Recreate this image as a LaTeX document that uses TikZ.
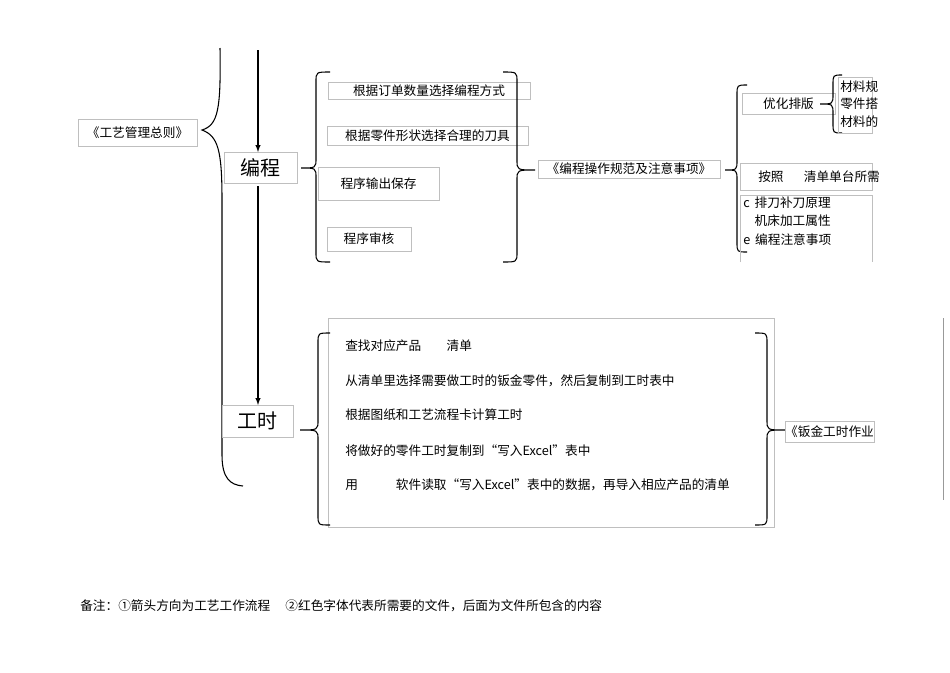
\documentclass[tikz,border=0pt]{standalone}
\usepackage{fontspec}
\setmainfont{Liberation Serif}
\newfontfamily\cjk{Noto Sans CJK SC}
\newcommand\mybr[6]{\draw[brace] (#1+#2,#3) .. controls (#1,#3) .. (#1,#3+10) -- (#1,#4-10) .. controls (#1,#4) .. (#6,#4) .. controls (#1,#4) .. (#1,#4+10) -- (#1,#5-10) .. controls (#1,#5) .. (#1+#2,#5);}
\begin{document}
\begin{tikzpicture}[x=0.75pt,y=-0.75pt,
  box/.style={draw=black!25,line width=0.5pt,inner sep=0pt,font=\cjk\fontsize{9.5}{11}\selectfont},
  txt/.style={anchor=west,inner sep=0pt,font=\cjk\fontsize{9.5}{11}\selectfont},
  brace/.style={line width=0.8pt},
  arr/.style={-latex,line width=0.8pt}]
\useasboundingbox[fill=white] (0,0) rectangle (950,672);
% left big brace
\draw[brace] (220,48) .. controls (221,110) and (218,125) .. (202,130) .. controls (218,136) and (222,150) .. (222,200) -- (222,455) .. controls (222,478) and (230,485) .. (243,486);
\node[box,minimum width=89.25pt,minimum height=20.25pt] (zz) at (137.5,132.5) {《工艺管理总则》};
\node[box,minimum width=54.75pt,minimum height=23.25pt,font=\cjk\fontsize{15}{17}\selectfont] (bc) at (260.5,167.5) {编程};
\node[box,minimum width=53.25pt,minimum height=24pt,font=\cjk\fontsize{15}{17}\selectfont] (gs) at (257.5,421) {工时};
\coordinate (t0) at (258,50);
\draw[arr] (t0) -- (258,152);
\draw[arr] (258,186) -- (258,405);
% programming items
\mybr{316}{14}{72}{168}{262}{301}
\node[box,minimum width=151.5pt,minimum height=12.75pt] (p1) at (429,90.5) {根据订单数量选择编程方式};
\node[box,minimum width=150.75pt,minimum height=14.25pt] (p2) at (427.5,135.5) {根据零件形状选择合理的刀具};
\node[box,minimum width=90.75pt,minimum height=24.75pt] (p3) at (378.5,183.5) {程序输出保存};
\node[box,minimum width=63pt,minimum height=18pt] (p4) at (369,239) {程序审核};
\mybr{517}{-14}{72}{170}{262}{535}
\node[box,minimum width=136.5pt,minimum height=13.5pt] (gf) at (629,169) {《编程操作规范及注意事项》};
\mybr{737}{10}{85}{170}{252}{725}
\node[box,minimum width=69.75pt,minimum height=15.75pt] (yh) at (788.5,103.5) {优化排版};
\mybr{833}{9}{75}{104}{133}{820}
\draw[black!25,line width=0.5pt] (838,77) rectangle (872,133);
\node[txt] (m1) at (840,87) {材料规};
\node[txt] (m2) at (840,104) {零件搭};
\node[txt] (m3) at (840,122) {材料的};
\draw[black!25,line width=0.5pt] (740,163) rectangle (872,190);
\node[txt] (az) at (758,176.5) {按照\hspace{1.6em}清单单台所需};
\draw[black!25,line width=0.5pt] (740,262) -- (740,195) -- (872,195) -- (872,262);
\node[txt] (c1) at (743,203) {c\, 排刀补刀原理};
\node[txt] (c2) at (743,221) {\phantom{c}\, 机床加工属性};
\node[txt] (c3) at (743,240) {e\, 编程注意事项};
% lower
\draw[black!25,line width=0.5pt] (328,318) rectangle (774,527);
\mybr{318}{12}{333}{430}{525}{300}
\mybr{767}{-12}{333}{430}{525}{785}
\node[box,minimum width=63.75pt,minimum height=15.75pt] (bj) at (829.5,431.5) {《钣金工时作业};
\node[txt] (l1) at (345,346) {查找对应产品\hspace{2em}清单};
\node[txt] (l2) at (345,381) {从清单里选择需要做工时的钣金零件，然后复制到工时表中};
\node[txt] (l3) at (345,415) {根据图纸和工艺流程卡计算工时};
\node[txt] (l4) at (345,451) {将做好的零件工时复制到“写入Excel”表中};
\node[txt] (l5) at (345,485) {用\hspace{3em}软件读取“写入Excel”表中的数据，再导入相应产品的清单};
\draw[black!40,line width=0.6pt] (943,318) -- (943,500);
\node[txt] (note) at (80,606) {备注：①箭头方向为工艺工作流程\hspace{1.2em}②红色字体代表所需要的文件，后面为文件所包含的内容};
\end{tikzpicture}
\end{document}
